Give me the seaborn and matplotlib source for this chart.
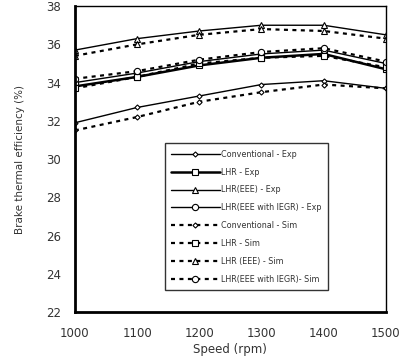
import matplotlib
matplotlib.use("Agg")
import matplotlib.pyplot as plt
from matplotlib.ticker import MultipleLocator
import seaborn as sns
import pandas as pd

speed = [1000, 1100, 1200, 1300, 1400, 1500]
conv_exp = [31.9, 32.7, 33.3, 33.9, 34.1, 33.7]
lhr_exp = [33.8, 34.3, 34.9, 35.3, 35.5, 34.7]
eee_exp = [35.7, 36.3, 36.7, 37.0, 37.0, 36.5]
iegr_exp = [34.0, 34.5, 35.1, 35.5, 35.7, 35.0]
conv_sim = [31.5, 32.2, 33.0, 33.5, 33.9, 33.7]
lhr_sim = [33.7, 34.3, 35.0, 35.3, 35.4, 34.8]
eee_sim = [35.4, 36.0, 36.5, 36.8, 36.7, 36.3]
iegr_sim = [34.2, 34.6, 35.2, 35.6, 35.8, 35.1]

labels = ["Conventional - Exp", "LHR - Exp", "LHR(EEE) - Exp", "LHR(EEE with IEGR) - Exp",
          "Conventional - Sim", "LHR - Sim", "LHR (EEE) - Sim", "LHR(EEE with IEGR)- Sim"]
series = [conv_exp, lhr_exp, eee_exp, iegr_exp, conv_sim, lhr_sim, eee_sim, iegr_sim]
markers = ["D", "s", "^", "o", "D", "s", "^", "o"]
msizes = [2.6, 4.5, 4.2, 4.5, 2.6, 4.5, 4.2, 4.5]
lws = [1.0, 1.8, 1.0, 1.0, 1.6, 1.6, 1.6, 1.6]

sns.set_style("white")
plt.rcParams['font.family'] = ['DejaVu Sans']

fig = plt.figure(figsize=(4.07, 3.6), dpi=100)
ax = fig.add_axes([0.184, 0.133, 0.764, 0.850])

for i, (lab, vals) in enumerate(zip(labels, series)):
    df = pd.DataFrame({"speed": speed, "bte": vals})
    ls = "-" if i < 4 else (0, (1.8, 2.0))
    sns.lineplot(data=df, x="speed", y="bte", ax=ax, color="black",
                 linestyle=ls, linewidth=lws[i], marker=markers[i],
                 markersize=msizes[i], markerfacecolor="white",
                 markeredgecolor="black", markeredgewidth=0.8, label=lab)

ax.set_xlim(1000, 1500)
ax.set_ylim(22, 38)
ax.xaxis.set_major_locator(MultipleLocator(100))
ax.xaxis.set_minor_locator(MultipleLocator(20))
ax.yaxis.set_major_locator(MultipleLocator(2))
ax.yaxis.set_minor_locator(MultipleLocator(0.5))
ax.tick_params(which="both", direction="in", length=3, width=1.2, colors="black",
               labelsize=8.5, labelcolor="#333333")
ax.tick_params(axis="x", pad=11)
ax.tick_params(axis="y", pad=10)
ax.tick_params(top=False, right=False, which="both")
for s in ["left", "bottom"]:
    ax.spines[s].set_linewidth(2.0)
for s in ["top", "right"]:
    ax.spines[s].set_linewidth(1.0)
for s in ax.spines.values():
    s.set_color("black")
    s.set_visible(True)

ax.set_xlabel("Speed (rpm)", fontsize=8.5, labelpad=2, color="#333333")
ax.set_ylabel("Brake thermal efficiency (%)", fontsize=7.5, labelpad=15, color="#333333")

leg = ax.legend(loc="upper left", bbox_to_anchor=(0.289, 0.552), fontsize=5.8,
                handlelength=6.0, handletextpad=0.2, labelspacing=1.1,
                frameon=True, fancybox=False, borderpad=0.8, borderaxespad=0)
leg.get_frame().set_edgecolor("black")
leg.get_frame().set_linewidth(1.0)
for t in leg.get_texts():
    t.set_color("#333333")

fig.savefig("out.png", dpi=100)
